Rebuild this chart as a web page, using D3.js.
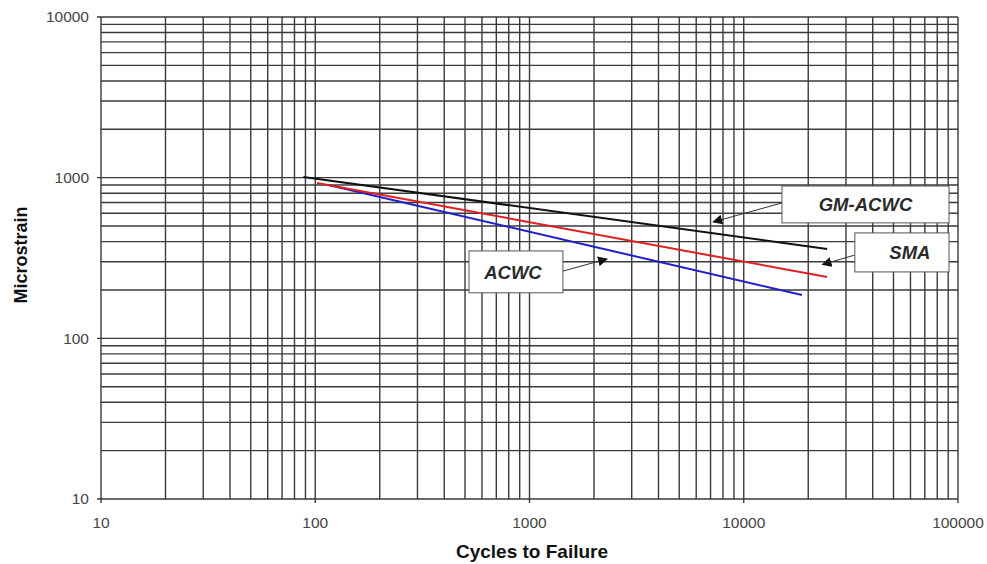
<!DOCTYPE html>
<html>
<head>
<meta charset="utf-8">
<script src="https://cdn.jsdelivr.net/npm/d3@7"></script>
<style>
  body { margin: 0; background: #fff; }
  text { font-family: "Liberation Sans", Arial, sans-serif; }
</style>
</head>
<body>
<div id="chart"></div>
<script>
var svgWidth = 987;
var svgHeight = 564;

var margin = { top: 17, right: 29, bottom: 65, left: 101 };
var width = svgWidth - margin.left - margin.right;
var height = svgHeight - margin.top - margin.bottom;

// series (cycles, microstrain)
var gmCycles = [88, 24500];
var gmStrain = [1010, 360];
var smaCycles = [102, 24500];
var smaStrain = [925, 241];
var acwcCycles = [115, 18700];
var acwcStrain = [900, 186];

var xTicks = [10, 100, 1000, 10000, 100000];
var yTicks = [10, 100, 1000, 10000];

// callouts: name, box in data coords (left/right cycles, top/bottom strain), arrow start and tip
var labelNames = ["GM-ACWC", "SMA", "ACWC"];
var labelBox = [[15080, 90800, 887, 523], [33000, 90800, 453, 259], [522, 1432, 350, 192]];
var labelArrowFrom = [[15080, 696], [33000, 330], [1432, 262]];
var labelArrowTo = [[7200, 530], [23300, 288], [2300, 312]];
var labelShift = [0, 8, -3];

var svg = d3.select("#chart")
  .append("svg")
  .attr("width", svgWidth)
  .attr("height", svgHeight);

var chartGroup = svg.append("g")
  .attr("transform", `translate(${margin.left}, ${margin.top})`);

var xScale = d3.scaleLog().domain([10, 100000]).range([0, width]);
var yScale = d3.scaleLog().domain([10, 10000]).range([height, 0]);

// grid lines at every 1..9 multiple
var xGrid = [];
for (var d = 10; d < 100000; d *= 10) {
  for (var k = 1; k < 10; k++) xGrid.push(d * k);
}
xGrid.push(100000);
var yGrid = [];
for (var d = 10; d < 10000; d *= 10) {
  for (var k = 1; k < 10; k++) yGrid.push(d * k);
}
yGrid.push(10000);

var gridColor = "#3a3a3a";
var isMajor = d => xTicks.indexOf(d) >= 0 || yTicks.indexOf(d) >= 0;

chartGroup.selectAll(".vgrid")
  .data(xGrid)
  .enter()
  .append("line")
  .attr("x1", d => xScale(d))
  .attr("x2", d => xScale(d))
  .attr("y1", 0)
  .attr("y2", d => height + (xTicks.indexOf(d) >= 0 ? 4 : 0))
  .attr("stroke", gridColor)
  .attr("stroke-width", 1.4);

chartGroup.selectAll(".hgrid")
  .data(yGrid)
  .enter()
  .append("line")
  .attr("x1", d => (yTicks.indexOf(d) >= 0 ? -4 : 0))
  .attr("x2", width)
  .attr("y1", d => yScale(d))
  .attr("y2", d => yScale(d))
  .attr("stroke", gridColor)
  .attr("stroke-width", 1.4);

// tick labels
chartGroup.selectAll(".ytick")
  .data(yTicks)
  .enter()
  .append("text")
  .attr("x", -12)
  .attr("y", d => yScale(d))
  .attr("dy", "0.35em")
  .attr("text-anchor", "end")
  .attr("font-size", "15.5px")
  .attr("fill", "#444")
  .text(d => d);

chartGroup.selectAll(".xtick")
  .data(xTicks)
  .enter()
  .append("text")
  .attr("x", d => xScale(d))
  .attr("y", height + 29)
  .attr("text-anchor", "middle")
  .attr("font-size", "15.5px")
  .attr("fill", "#444")
  .text(d => d);

// axis titles
svg.append("text")
  .attr("x", 532)
  .attr("y", 558)
  .attr("text-anchor", "middle")
  .attr("font-size", "19px")
  .attr("font-weight", "bold")
  .attr("fill", "#111")
  .text("Cycles to Failure");

svg.append("text")
  .attr("transform", "translate(27, 255) rotate(-90)")
  .attr("text-anchor", "middle")
  .attr("font-size", "18px")
  .attr("font-weight", "bold")
  .attr("fill", "#111")
  .text("Microstrain");

// series lines
var lineGen = d3.line()
  .x(d => xScale(d[0]))
  .y(d => yScale(d[1]));

var series = [
  { cycles: acwcCycles, strain: acwcStrain, color: "#2020c8" },
  { cycles: smaCycles, strain: smaStrain, color: "#e02020" },
  { cycles: gmCycles, strain: gmStrain, color: "#111" }
];

series.forEach(function(s) {
  chartGroup.append("path")
    .datum(d3.zip(s.cycles, s.strain))
    .attr("d", lineGen)
    .attr("fill", "none")
    .attr("stroke", s.color)
    .attr("stroke-width", 2);
});

// arrow marker
svg.append("defs").append("marker")
  .attr("id", "arrow")
  .attr("viewBox", "0 0 10 10")
  .attr("refX", 9)
  .attr("refY", 5)
  .attr("markerWidth", 10)
  .attr("markerHeight", 10)
  .attr("markerUnits", "userSpaceOnUse")
  .attr("orient", "auto")
  .append("path")
  .attr("d", "M0,0 L10,5 L0,10 Z")
  .attr("fill", "#111");

// callouts
labelNames.forEach(function(name, i) {
  var b = labelBox[i];
  var x0 = xScale(b[0]), x1 = xScale(b[1]);
  var y0 = yScale(b[2]), y1 = yScale(b[3]);

  chartGroup.append("line")
    .attr("x1", xScale(labelArrowFrom[i][0]))
    .attr("y1", yScale(labelArrowFrom[i][1]))
    .attr("x2", xScale(labelArrowTo[i][0]))
    .attr("y2", yScale(labelArrowTo[i][1]))
    .attr("stroke", "#333")
    .attr("stroke-width", 1)
    .attr("marker-end", "url(#arrow)");

  chartGroup.append("rect")
    .attr("x", x0)
    .attr("y", y0)
    .attr("width", x1 - x0)
    .attr("height", y1 - y0)
    .attr("fill", "#fff")
    .attr("stroke", "#555")
    .attr("stroke-width", 1);

  chartGroup.append("text")
    .attr("x", (x0 + x1) / 2 + labelShift[i])
    .attr("y", (y0 + y1) / 2)
    .attr("dy", "0.36em")
    .attr("text-anchor", "middle")
    .attr("font-size", "18.5px")
    .attr("font-weight", "bold")
    .attr("font-style", "italic")
    .attr("fill", "#2a2a2a")
    .text(name);
});
</script>
</body>
</html>
